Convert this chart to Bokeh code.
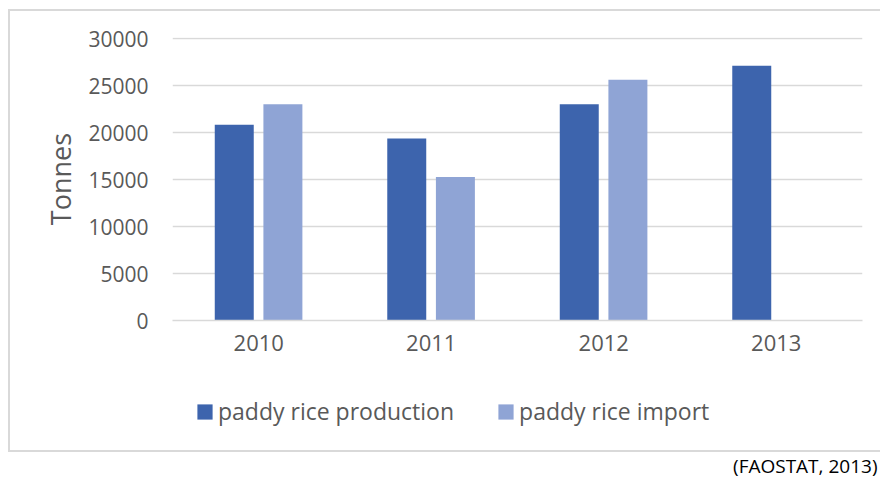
from bokeh.plotting import figure
from bokeh.layouts import column
from bokeh.models import (FactorRange, Range1d, FixedTicker, Legend, LegendItem,
                          Title, ColumnDataSource)
from bokeh.transform import dodge
from bokeh.embed import file_html
from bokeh.resources import INLINE

# ---- data ----
years = ["2010", "2011", "2012", "2013"]
production = [20850, 19400, 23050, 27150]
import_years = ["2010", "2011", "2012"]
imports = [23050, 15300, 25650]
y_ticks = [0, 5000, 10000, 15000, 20000, 25000, 30000]
y_label = "Tonnes"
series_names = ["paddy rice production", "paddy rice import"]
source_note = "(FAOSTAT, 2013)"

PROD_COLOR = "#3D64AD"
IMP_COLOR = "#8FA4D5"
TEXT_COLOR = "#595959"
GRID_COLOR = "#D9D9D9"
FONT = "Open Sans"

src_p = ColumnDataSource(dict(x=years, top=production))
src_i = ColumnDataSource(dict(x=import_years, top=imports))
x_range = FactorRange(*years)

# ---- main chart ----
p = figure(width=880, height=372, x_range=x_range,
           y_range=Range1d(0, 30150), output_backend="svg",
           toolbar_location=None, tools="",
           min_border_left=172, min_border_right=18,
           min_border_top=37, min_border_bottom=52)
p.outline_line_color = None
p.background_fill_color = "white"
p.border_fill_color = None

p.vbar(x=dodge("x", -0.142, range=x_range), top="top", width=0.226,
       source=src_p, fill_color=PROD_COLOR, line_color=None)
p.vbar(x=dodge("x", 0.14, range=x_range), top="top", width=0.226,
       source=src_i, fill_color=IMP_COLOR, line_color=None)

p.yaxis.ticker = FixedTicker(ticks=y_ticks)
p.yaxis.axis_line_color = None
p.yaxis.major_tick_line_color = None
p.yaxis.minor_tick_line_color = None
p.yaxis.major_tick_out = 0
p.yaxis.major_label_standoff = 24
p.yaxis.major_label_text_font = FONT
p.yaxis.major_label_text_font_size = "21px"
p.yaxis.major_label_text_color = TEXT_COLOR
p.yaxis.axis_label = y_label
p.yaxis.axis_label_text_font = FONT
p.yaxis.axis_label_text_font_size = "27px"
p.yaxis.axis_label_text_font_style = "normal"
p.yaxis.axis_label_text_color = TEXT_COLOR
p.yaxis.axis_label_standoff = 6

p.xaxis.axis_line_color = GRID_COLOR
p.xaxis.axis_line_width = 1.5
p.xaxis.major_tick_line_color = None
p.xaxis.minor_tick_line_color = None
p.xaxis.major_tick_out = 0
p.xaxis.major_label_standoff = 14
p.xaxis.major_label_text_font = FONT
p.xaxis.major_label_text_font_size = "22px"
p.xaxis.major_label_text_color = TEXT_COLOR

p.xgrid.grid_line_color = None
p.ygrid.grid_line_color = GRID_COLOR
p.ygrid.grid_line_width = 1.5

# ---- legend + source strip (legend keys only; zero-width, off-view bars) ----
p2 = figure(width=880, height=106, x_range=x_range,
            y_range=Range1d(-200000, -100000),
            output_backend="svg", toolbar_location=None, tools="",
            min_border_left=172, min_border_right=18, min_border_top=0,
            min_border_bottom=26)
p2.axis.visible = False
p2.grid.visible = False
p2.outline_line_color = None
p2.background_fill_color = None
p2.border_fill_color = None

k1 = p2.vbar(x="x", top="top", width=0, source=src_p,
             fill_color=PROD_COLOR, line_color=None)
k2 = p2.vbar(x="x", top="top", width=0, source=src_i,
             fill_color=IMP_COLOR, line_color=None)
legend = Legend(items=[LegendItem(label=series_names[0], renderers=[k1]),
                       LegendItem(label=series_names[1], renderers=[k2])],
                orientation="horizontal", location="top_left",
                glyph_width=19, glyph_height=19, label_height=30,
                label_standoff=4, spacing=42,
                padding=0, margin=23, border_line_color=None,
                background_fill_alpha=0,
                label_text_font=FONT, label_text_font_size="23px",
                label_text_color=TEXT_COLOR)
p2.add_layout(legend, "center")

note = Title(text=source_note, align="right", offset=-15, standoff=0,
             vertical_align="bottom",
             text_font=FONT, text_font_size="19px", text_font_style="normal",
             text_color="black")
p2.add_layout(note, "below")

layout = column(p, p2, spacing=0)
g = "linear-gradient(#D9D9D9,#D9D9D9)"
layout.styles = {"background": (f"{g} 8px 9px / 2px 443px no-repeat, "
                                f"{g} 8px 9px / 872px 2px no-repeat, "
                                f"{g} 8px 450px / 872px 2px no-repeat, white")}

open("out.html", "w").write(file_html(layout, INLINE))
